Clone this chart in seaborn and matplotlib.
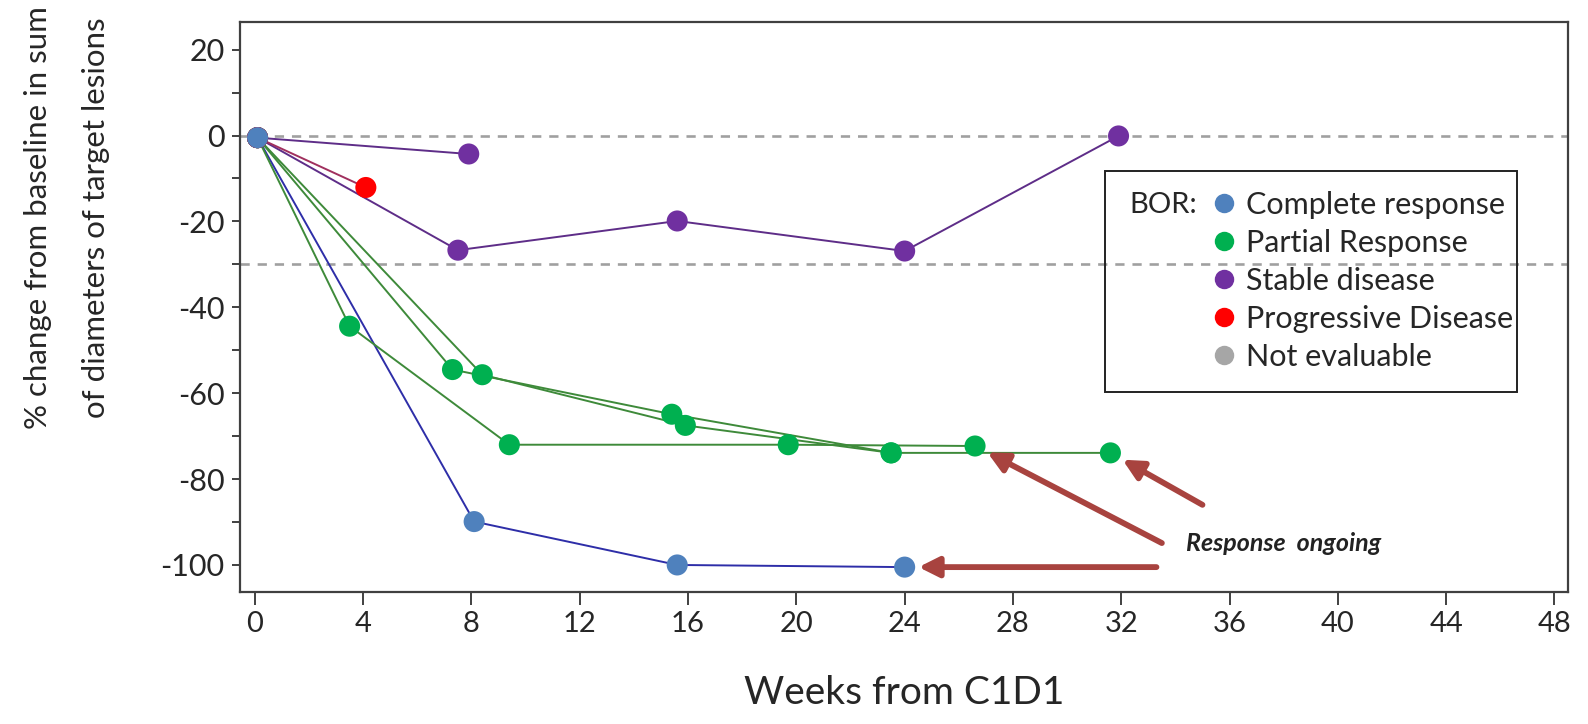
import matplotlib
matplotlib.use("Agg")
import matplotlib.pyplot as plt
import seaborn as sns
import pandas as pd
from matplotlib.patches import Rectangle
from matplotlib.lines import Line2D

# best overall response categories (legend order)
categories = ["Complete response", "Partial Response", "Stable disease",
              "Progressive Disease", "Not evaluable"]
marker_colors = ["#4F81BD", "#00B050", "#7030A0", "#FF0000", "#A6A6A6"]
line_colors = ["#2E2EA8", "#3E8A3A", "#5E2D88", "#A0305E", "#A6A6A6"]

# one trajectory per patient: weeks from C1D1 and % change from baseline
subjects = ["CR-1", "PR-1", "PR-2", "PR-3", "SD-1", "SD-2", "PD-1"]
subject_bor = ["Complete response", "Partial Response", "Partial Response",
               "Partial Response", "Stable disease", "Stable disease",
               "Progressive Disease"]
weeks = [
    [0.1, 8.1, 15.6, 24.0],
    [0.1, 3.5, 9.4, 19.7, 26.6],
    [0.1, 7.3, 15.4, 23.5, 31.6],
    [0.1, 8.4, 15.9, 23.5],
    [0.1, 7.9],
    [0.1, 7.5, 15.6, 24.0, 31.9],
    [0.1, 4.1],
]
pct_change = [
    [-0.5, -89.9, -100.0, -100.5],
    [-0.5, -44.4, -72.0, -72.0, -72.3],
    [-0.5, -54.5, -64.9, -73.9, -73.9],
    [-0.5, -55.7, -67.5, -73.9],
    [-0.5, -4.3],
    [-0.5, -26.7, -19.9, -26.9, -0.1],
    [-0.5, -12.1],
]
# patients with response ongoing (arrows point at their last visit)
ongoing = ["CR-1", "PR-1", "PR-2"]
arrow_tails = [(33.3, -100.5), (33.5, -94.9), (35.0, -86.0)]
thresholds = [0, -30]

rows = []
for s, b, w, c in zip(subjects, subject_bor, weeks, pct_change):
    for wk, ch in zip(w, c):
        rows.append({"subject": s, "bor": b, "week": wk, "change": ch})
df = pd.DataFrame(rows)

sns.set_style("ticks")
plt.rcParams["font.family"] = ["Lato", "DejaVu Sans"]

fig = plt.figure(figsize=(15.88, 7.24), dpi=100)
ax = fig.add_axes([0.1511, 0.1823, 0.8363, 0.7877])

line_pal = dict(zip(categories, line_colors))
mark_pal = dict(zip(categories, marker_colors))

for y0 in thresholds:
    ax.axhline(y0, color="#A0A0A0", lw=1.9, ls=(0, (3.5, 3)), zorder=0)

sns.lineplot(data=df, x="week", y="change", hue="bor", units="subject",
             estimator=None, sort=False, palette=line_pal, lw=1.4,
             legend=False, ax=ax, zorder=2)

# draw the complete responder's baseline dot last so it sits on top
first = df.groupby("subject").cumcount() == 0
top = first & (df["bor"] == "Complete response")
pts = pd.concat([df[~top], df[top]])
sns.scatterplot(data=pts, x="week", y="change", hue="bor", palette=mark_pal,
                s=230, linewidth=0, legend=False, ax=ax, zorder=3)

for s, tail in zip(ongoing, arrow_tails):
    last = df[df["subject"] == s].iloc[-1]
    ax.annotate("", xy=(last["week"], last["change"]), xytext=tail,
                arrowprops=dict(arrowstyle="-|>", color="#A8433F", lw=4.2,
                                mutation_scale=30, shrinkA=0, shrinkB=10),
                zorder=4)
ax.text(34.4, -94.9, "Response  ongoing", fontsize=18, fontweight="bold",
        fontstyle="italic", va="center", ha="left", color="#222222")

ax.set_xlim(-0.55, 48.5)
ax.set_ylim(-106.3, 26.5)
ax.set_xticks(range(0, 49, 4))
ax.set_yticks(range(-100, 21, 20))
ax.set_yticks(range(-90, 21, 20), minor=True)
ax.set_yticklabels([str(v) for v in range(-100, 21, 20)], fontsize=22)
ax.set_xticklabels([str(v) for v in range(0, 49, 4)], fontsize=21)
ax.tick_params(axis="y", which="both", length=6, width=1.4, pad=5,
               color="#404040")
ax.tick_params(axis="x", length=9, width=1.4, pad=5, color="#404040")
for sp in ax.spines.values():
    sp.set_color("#404040")
    sp.set_linewidth(1.6)

ax.set_xlabel("Weeks from C1D1", fontsize=28, labelpad=27)
ax.set_ylabel("")
fig.text(0.0242, 0.699, "% change from baseline in sum", rotation=90,
         ha="center", va="center", fontsize=22.5)
fig.text(0.0605, 0.699, "of diameters of target lesions", rotation=90,
         ha="center", va="center", fontsize=22.5)

# legend box
ax.add_patch(Rectangle((0.651, 0.351), 0.3106, 0.387, transform=ax.transAxes,
                       fill=False, ec="#222222", lw=1.4, zorder=5))
handles = [Line2D([], [], ls="none", marker="o", ms=14, mec="none", mfc=c)
           for c in marker_colors]
ax.legend(handles, categories, loc="upper left", bbox_to_anchor=(0.731, 0.7035),
          frameon=False, fontsize=22, handlelength=0.9, handletextpad=0.25,
          labelspacing=0.33, borderpad=0, borderaxespad=0)
ax.text(0.670, 0.679, "BOR:", transform=ax.transAxes, fontsize=21,
        va="center", ha="left")

fig.savefig("out.png", dpi=100)
